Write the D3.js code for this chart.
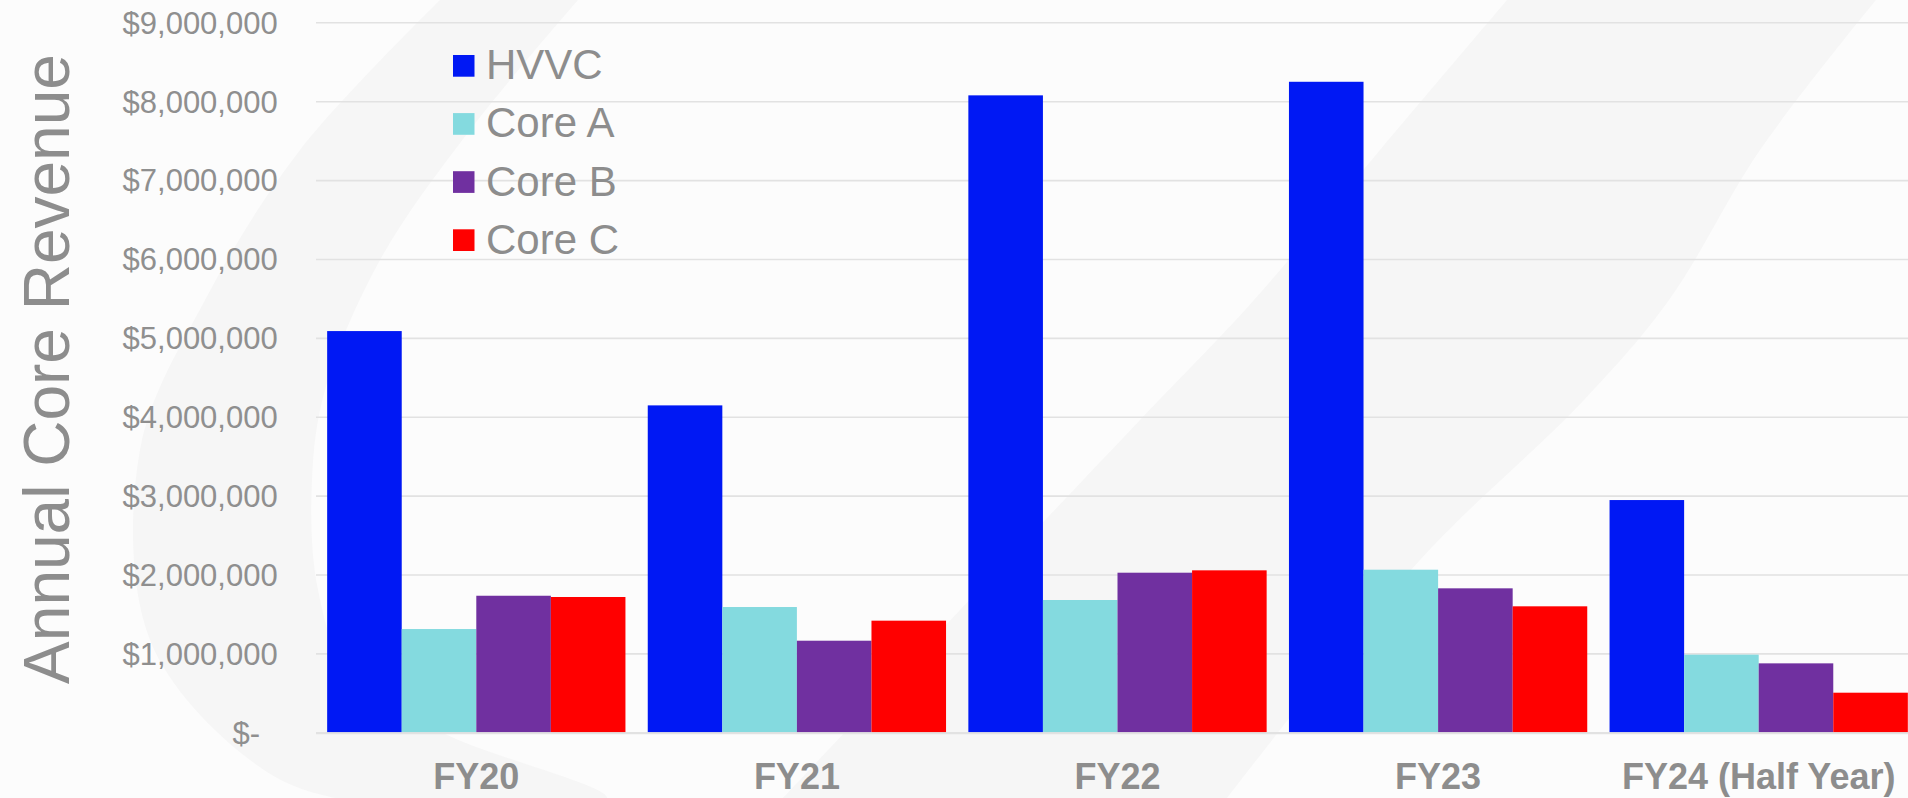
<!DOCTYPE html>
<html>
<head>
<meta charset="utf-8">
<script src="https://cdn.jsdelivr.net/npm/d3@7"></script>
<style>
  html, body { margin: 0; padding: 0; background: #fcfcfc; overflow: hidden; }
  svg { display: block; }
  text { font-family: Arial, "Liberation Sans", sans-serif; }
</style>
</head>
<body>
<svg id="chart" width="1908" height="798"></svg>
<script>
// ---- data ----
const categories = ["FY20", "FY21", "FY22", "FY23", "FY24 (Half Year)"];
const seriesNames = ["HVVC", "Core A", "Core B", "Core C"];
const hvvc  = [5086000, 4144000, 8074000, 8246000, 2944000];
const coreA = [1309000, 1588000, 1677000, 2061000,  984000];
const coreB = [1731000, 1161000, 2023000, 1825000,  874000];
const coreC = [1715000, 1415000, 2053000, 1597000,  502000];
const seriesColors = ["#0018f4", "#84dadf", "#7030a0", "#ff0000"];
const yTicks = [0, 1000000, 2000000, 3000000, 4000000, 5000000, 6000000, 7000000, 8000000, 9000000];
const yTitle = "Annual Core Revenue";

const seriesValues = [hvvc, coreA, coreB, coreC];
const table = categories.map((c, i) => ({
  category: c,
  values: seriesNames.map((s, j) => ({ series: s, value: seriesValues[j][i], color: seriesColors[j] }))
}));

// ---- layout ----
const W = 1908, H = 798;
const plotLeft = 316, plotRight = 1919, plotTop = 22.3, plotBottom = 732.3;
const textGray = "#8d8d8d";

const svg = d3.select("#chart");

// background decorative swooshes
const bg = svg.append("g");
bg.append("rect").attr("width", W).attr("height", H).attr("fill", "#fcfcfc");
const swooshLine = d3.line().curve(d3.curveCatmullRom.alpha(0.5));
const crescentOuter = [[440,0],[300,150],[205,300],[140,450],[150,640],[250,760],[335,798]];
const crescentInner = [[607,798],[443,733],[350,675],[318,590],[312,480],[325,390],[380,260],[470,130],[578,0]];
bg.append("path")
  .attr("d", swooshLine(crescentOuter.concat(crescentInner)) + "Z")
  .attr("fill", "#f6f6f6");
const bandLeft = [[1507,0],[1380,150],[1254,300],[1140,420],[960,610],[783,798]];
const bandRight = [[1227,798],[1420,560],[1584,400],[1669,300],[1760,150],[1876,0]];
bg.append("path")
  .attr("d", swooshLine(bandLeft) + "L" + swooshLine(bandRight).slice(1) + "Z")
  .attr("fill", "#f6f6f6");

// scales
const x0 = d3.scaleBand().domain(categories).range([plotLeft, plotRight])
  .paddingInner(0.0696).paddingOuter(0.0348);
const x1 = d3.scaleBand().domain(seriesNames).range([0, x0.bandwidth()]).padding(0);
const y = d3.scaleLinear().domain([0, 9000000]).range([plotBottom, plotTop]);

// y axis with gridlines
const fmt = d3.format("$,");
const yAxis = d3.axisLeft(y).tickValues(yTicks)
  .tickSize(-(W - plotLeft)).tickPadding(38.3)
  .tickFormat(d => d === 0 ? "$-" : fmt(d));
const gy = svg.append("g").attr("transform", `translate(${plotLeft},0)`).call(yAxis);
gy.select(".domain").remove();
gy.selectAll(".tick line").attr("stroke", "#e2e2e2").attr("stroke-width", 1.6);
gy.selectAll(".tick text")
  .attr("fill", "#8f8f8f").attr("font-size", 31).attr("font-family", "Arial, 'Liberation Sans', sans-serif")
  .attr("dy", "0.35em")
  .attr("dx", d => d === 0 ? -17.7 : 0);

// bars
const groups = svg.append("g").selectAll("g").data(table).join("g")
  .attr("transform", d => `translate(${x0(d.category)},0)`);
groups.selectAll("rect").data(d => d.values).join("rect")
  .attr("x", d => x1(d.series))
  .attr("y", d => y(d.value))
  .attr("width", x1.bandwidth())
  .attr("height", d => y(0) - y(d.value))
  .attr("fill", d => d.color);

// baseline
svg.append("line").attr("x1", plotLeft).attr("x2", W)
  .attr("y1", y(0) + 1).attr("y2", y(0) + 1)
  .attr("stroke", "#e2e2e2").attr("stroke-width", 2);

// x axis
const xAxis = d3.axisBottom(x0).tickSize(0);
const gx = svg.append("g").attr("transform", `translate(0,${plotBottom})`).call(xAxis);
gx.select(".domain").remove();
gx.selectAll(".tick text")
  .attr("y", 789 - plotBottom).attr("dy", 0)
  .attr("fill", textGray).attr("font-size", 36).attr("font-weight", "bold")
  .attr("font-family", "Arial, 'Liberation Sans', sans-serif");

// y title
svg.append("text")
  .attr("transform", "translate(69,369) rotate(-90)")
  .attr("text-anchor", "middle")
  .attr("font-size", 64)
  .attr("fill", textGray)
  .text(yTitle);

// legend
const legend = svg.append("g").attr("transform", "translate(453,55)");
const li = legend.selectAll("g").data(seriesNames).join("g")
  .attr("transform", (d, i) => `translate(0,${i * 58.1})`);
li.append("rect").attr("width", 21.5).attr("height", 21.7)
  .attr("fill", (d, i) => seriesColors[i]);
li.append("text").attr("x", 33).attr("y", 24.3)
  .attr("font-size", 42).attr("fill", textGray).text(d => d);
</script>
</body>
</html>
